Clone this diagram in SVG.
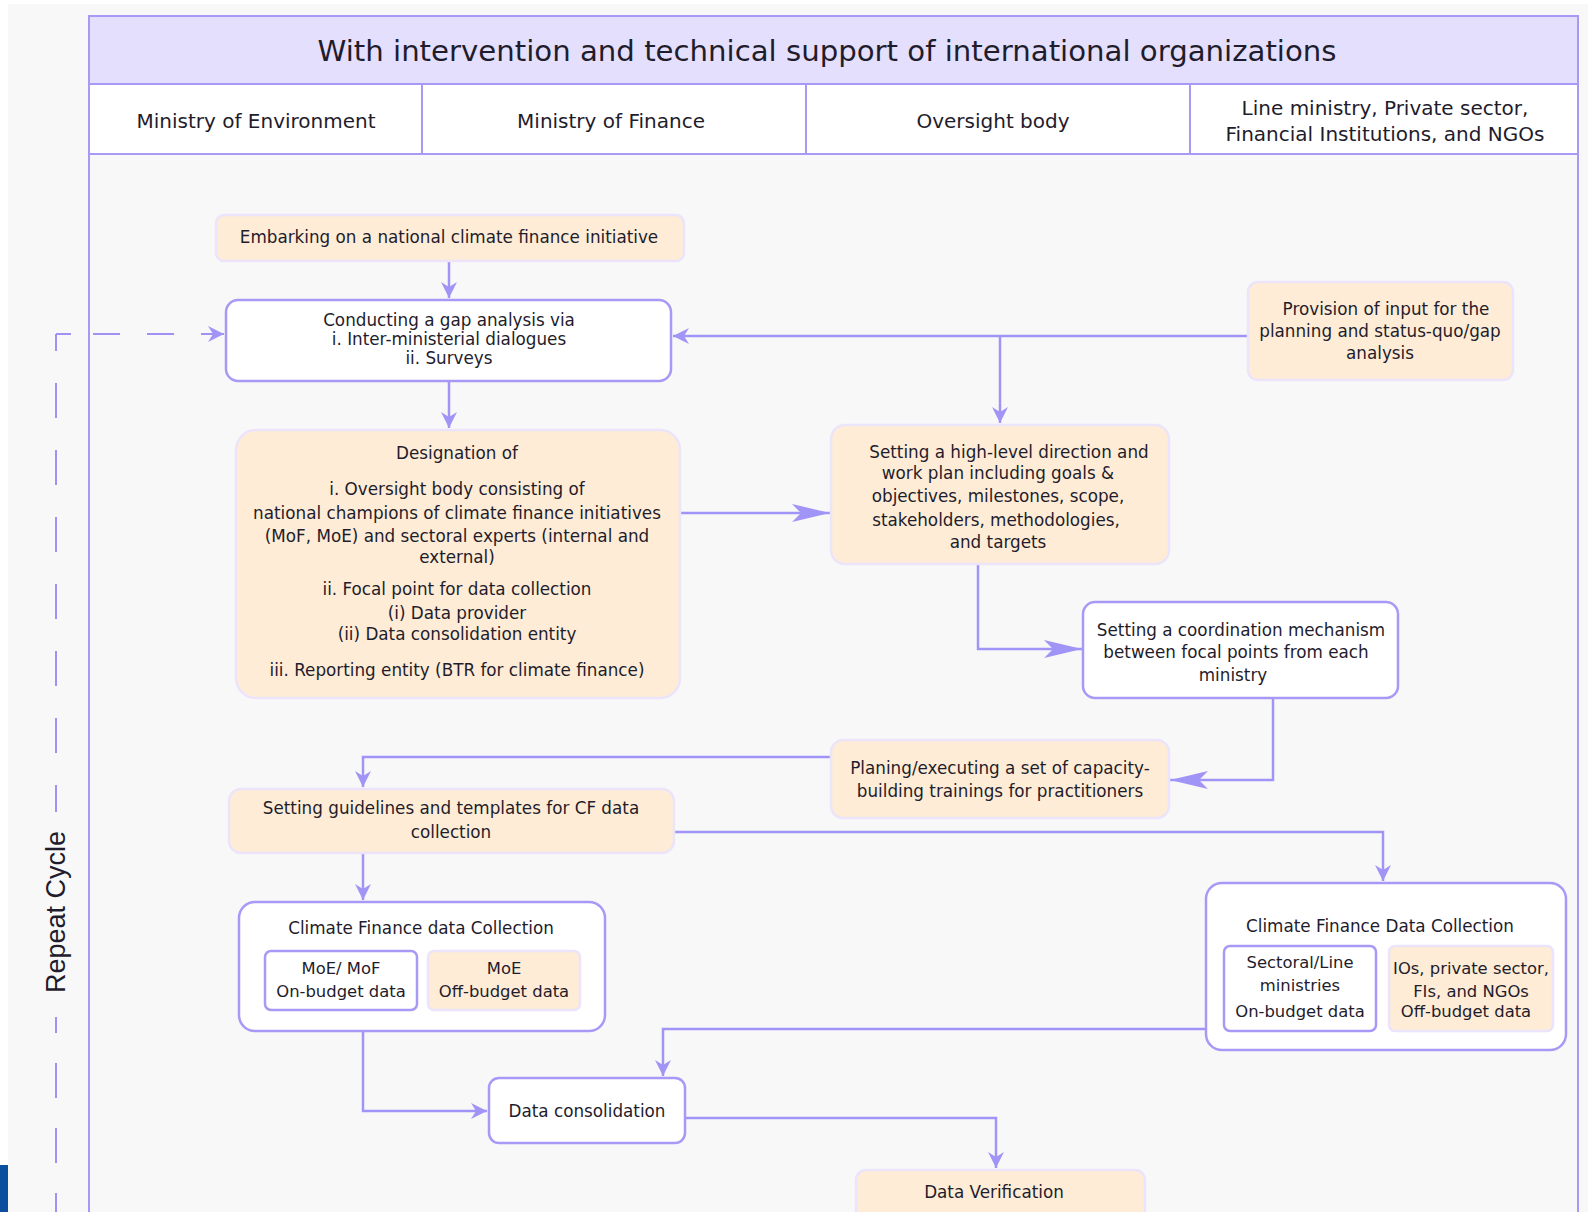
<svg xmlns="http://www.w3.org/2000/svg" width="1588" height="1212" viewBox="0 0 1588 1212">
  <style>
    .t { font-family: "DejaVu Sans", "Noto Sans", sans-serif; fill: #1f1c2c; text-anchor: middle; dominant-baseline: central; }
    .s17 { font-size: 16.8px; }
    .s16 { font-size: 16.4px; }
    .s20 { font-size: 20px; }
    .peach { fill: #feecd6; stroke: #ebe4fb; stroke-width: 2.5; }
    .plain { fill: #ffffff; stroke: #a899f7; stroke-width: 2.5; }
    .wire { fill: none; stroke: #a094f6; stroke-width: 2.5; }
    .dash { fill: none; stroke: #9f92f4; stroke-width: 2; }
  </style>
  <defs>
    <marker id="tip" viewBox="0 0 16 16" refX="16" refY="8" markerWidth="16" markerHeight="16" markerUnits="userSpaceOnUse" orient="auto">
      <path d="M0,0 L16,8 L0,16 L5,8 Z" fill="#a094f6"/>
    </marker>
    <marker id="bigtip" viewBox="0 0 38 18" refX="38" refY="9" markerWidth="38" markerHeight="18" markerUnits="userSpaceOnUse" orient="auto">
      <path d="M0,0 L38,9 L0,18 L9,9 Z" fill="#a094f6"/>
    </marker>
  </defs>

  <!-- page -->
  <rect x="0" y="0" width="1588" height="1212" fill="#f8f8f8"/>
  <rect x="0" y="0" width="1588" height="4" fill="#ffffff"/>
  <rect x="0" y="0" width="8" height="1165" fill="#ffffff"/>
  <rect x="0" y="1165" width="8" height="47" fill="#0b4f9e"/>

  <!-- frame, title band and lane headers -->
  <g id="frame">
    <line x1="89" y1="84" x2="89" y2="1212" stroke="#a899f7" stroke-width="2"/>
    <line x1="1578" y1="84" x2="1578" y2="1212" stroke="#a899f7" stroke-width="2"/>
    <rect x="89" y="16" width="1489" height="68" fill="#e4dffd" stroke="#a899f7" stroke-width="2"/>
    <text class="t" x="827" y="51" style="font-size:29.2px">With intervention and technical support of international organizations</text>
    <rect x="89" y="84" width="1489" height="70" fill="#ffffff" stroke="#a899f7" stroke-width="2"/>
    <line x1="422" y1="84" x2="422" y2="154" stroke="#a899f7" stroke-width="2"/>
    <line x1="806" y1="84" x2="806" y2="154" stroke="#a899f7" stroke-width="2"/>
    <line x1="1190" y1="84" x2="1190" y2="154" stroke="#a899f7" stroke-width="2"/>
    <text class="t s20" x="256" y="121">Ministry of Environment</text>
    <text class="t s20" x="611" y="121">Ministry of Finance</text>
    <text class="t s20" x="993" y="121">Oversight body</text>
    <text class="t s20" x="1385" y="108">Line ministry, Private sector,</text>
    <text class="t s20" x="1385" y="134">Financial Institutions, and NGOs</text>
  </g>

  <!-- repeat cycle loop -->
  <g id="repeat-cycle">
    <path class="dash" d="M71,334 H56"/>
    <path class="dash" d="M56,334 V812" stroke-dasharray="35 32" stroke-dashoffset="18"/>
    <path class="dash" d="M56,1017 V1212" stroke-dasharray="35 30" stroke-dashoffset="19"/>
    <path class="dash" d="M93,334 H224" stroke-dasharray="27 27" marker-end="url(#tip)"/>
    <text x="56" y="912" transform="rotate(-90 56 912)" style="font-family:'Liberation Sans', Arial, sans-serif; font-size:27px; fill:#1f1c2c; text-anchor:middle; dominant-baseline:central">Repeat Cycle</text>
  </g>

  <!-- connectors -->
  <g id="connectors">
    <path class="wire" d="M449,261 V298" marker-end="url(#tip)"/>
    <path class="wire" d="M1248,336 H673" marker-end="url(#tip)"/>
    <path class="wire" d="M1000,336 V423" marker-end="url(#tip)"/>
    <path class="wire" d="M449,381 V428" marker-end="url(#tip)"/>
    <path class="wire" d="M680,513 H830" marker-end="url(#bigtip)"/>
    <path class="wire" d="M978,564 V649 H1082" marker-end="url(#bigtip)"/>
    <path class="wire" d="M1273,698 V780 H1170" marker-end="url(#bigtip)"/>
    <path class="wire" d="M831,757 H363 V787" marker-end="url(#tip)"/>
    <path class="wire" d="M674,832 H1383 V881" marker-end="url(#tip)"/>
    <path class="wire" d="M363,853 V900" marker-end="url(#tip)"/>
    <path class="wire" d="M1206,1029 H663 V1076" marker-end="url(#tip)"/>
    <path class="wire" d="M363,1031 V1111 H487" marker-end="url(#tip)"/>
    <path class="wire" d="M685,1118 H996 V1168" marker-end="url(#tip)"/>
  </g>

  <g id="embark">
    <rect class="peach" x="216" y="215" width="468" height="46" rx="8"/>
    <text class="t s17" x="449" y="237">Embarking on a national climate finance initiative</text>
  </g>

  <g id="gap-analysis">
    <rect class="plain" x="226" y="300" width="445" height="81" rx="12"/>
    <text class="t s17" x="449" y="320">Conducting a gap analysis via</text>
    <text class="t s17" x="449" y="339">i. Inter-ministerial dialogues</text>
    <text class="t s17" x="449" y="358">ii. Surveys</text>
  </g>

  <g id="stakeholder-input">
    <rect class="peach" x="1248" y="282" width="265" height="98" rx="10"/>
    <text class="t s17" x="1386" y="309">Provision of input for the</text>
    <text class="t s17" x="1380" y="331">planning and status-quo/gap</text>
    <text class="t s17" x="1380" y="353">analysis</text>
  </g>

  <g id="designation">
    <rect class="peach" x="236" y="430" width="444" height="268" rx="20"/>
    <text class="t s17" x="457" y="453">Designation of</text>
    <text class="t s17" x="457" y="489">i.  Oversight body consisting of</text>
    <text class="t s17" x="457" y="513">national champions of climate finance initiatives</text>
    <text class="t s17" x="457" y="536">(MoF, MoE) and sectoral experts (internal and</text>
    <text class="t s17" x="457" y="557">external)</text>
    <text class="t s17" x="457" y="589">ii. Focal point  for data collection</text>
    <text class="t s17" x="457" y="613">(i) Data provider</text>
    <text class="t s17" x="457" y="634">(ii) Data consolidation entity</text>
    <text class="t s17" x="457" y="670">iii. Reporting entity (BTR for climate finance)</text>
  </g>

  <g id="direction">
    <rect class="peach" x="831" y="425" width="338" height="139" rx="14"/>
    <text class="t s17" x="1009" y="452">Setting a high-level direction and</text>
    <text class="t s17" x="998" y="473">work plan including goals &amp;</text>
    <text class="t s17" x="998" y="496">objectives, milestones, scope,</text>
    <text class="t s17" x="996" y="520">stakeholders, methodologies,</text>
    <text class="t s17" x="998" y="542">and targets</text>
  </g>

  <g id="coordination">
    <rect class="plain" x="1083" y="602" width="315" height="96" rx="12"/>
    <text class="t s17" x="1241" y="630">Setting a coordination mechanism</text>
    <text class="t s17" x="1236" y="652">between focal points from each</text>
    <text class="t s17" x="1233" y="675">ministry</text>
  </g>

  <g id="trainings">
    <rect class="peach" x="831" y="740" width="338" height="78" rx="12"/>
    <text class="t s17" x="1000" y="768">Planing/executing a set of capacity-</text>
    <text class="t s17" x="1000" y="791">building trainings for practitioners</text>
  </g>

  <g id="guidelines">
    <rect class="peach" x="229" y="789" width="445" height="64" rx="12"/>
    <text class="t s17" x="451" y="808">Setting guidelines and templates for CF data</text>
    <text class="t s17" x="451" y="832">collection</text>
  </g>

  <g id="collection-gov">
    <rect class="plain" x="239" y="902" width="366" height="129" rx="16"/>
    <text class="t s17" x="421" y="928">Climate Finance data Collection</text>
    <rect class="plain" x="265" y="951" width="152" height="59" rx="6"/>
    <text class="t s16" x="341" y="968">MoE/ MoF</text>
    <text class="t s16" x="341" y="991">On-budget data</text>
    <rect class="peach" x="428" y="951" width="152" height="59" rx="6"/>
    <text class="t s16" x="504" y="968">MoE</text>
    <text class="t s16" x="504" y="991">Off-budget data</text>
  </g>

  <g id="collection-sector">
    <rect class="plain" x="1206" y="883" width="360" height="167" rx="16"/>
    <text class="t s17" x="1380" y="926">Climate Finance Data Collection</text>
    <rect class="plain" x="1224" y="946" width="152" height="85" rx="6"/>
    <text class="t s16" x="1300" y="962">Sectoral/Line</text>
    <text class="t s16" x="1300" y="985">ministries</text>
    <text class="t s16" x="1300" y="1011">On-budget data</text>
    <rect class="peach" x="1389" y="946" width="164" height="85" rx="6"/>
    <text class="t s16" x="1471" y="968">IOs, private sector,</text>
    <text class="t s16" x="1471" y="991">FIs, and NGOs</text>
    <text class="t s16" x="1466" y="1011">Off-budget data</text>
  </g>

  <g id="consolidation">
    <rect class="plain" x="489" y="1078" width="196" height="65" rx="10"/>
    <text class="t s17" x="587" y="1111">Data consolidation</text>
  </g>

  <g id="verification">
    <rect class="peach" x="856" y="1170" width="289" height="60" rx="10"/>
    <text class="t s17" x="994" y="1192">Data Verification</text>
  </g>
</svg>
